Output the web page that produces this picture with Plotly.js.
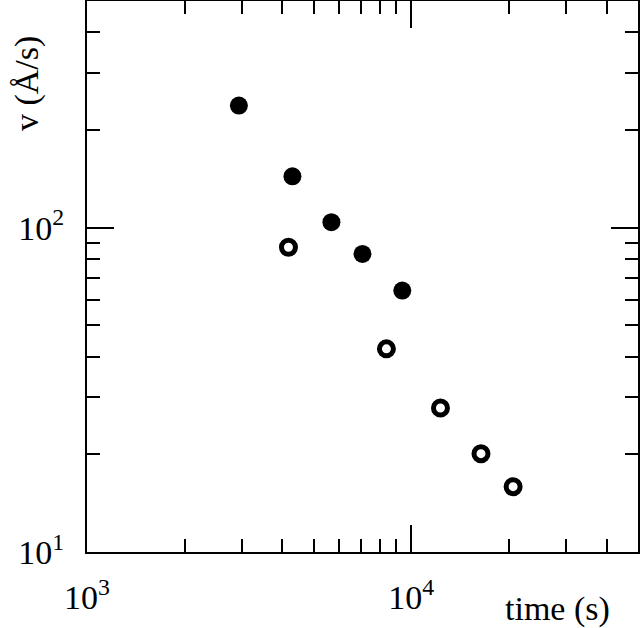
<!DOCTYPE html>
<html>
<head>
<meta charset="utf-8">
<script src="https://cdn.plot.ly/plotly-3.0.1.min.js"></script>
<style>
  html, body { margin: 0; padding: 0; background: #fff; }
  #plot { width: 640px; height: 628px; }
</style>
</head>
<body>
<div id="plot"></div>
<script>
// filled circles
let filledTime = [2940, 4300, 5670, 7070, 9380];
let filledV = [238, 144, 104, 83, 64];

// open circles
let openTime = [4180, 8380, 12300, 16400, 20600];
let openV = [87, 42.3, 27.8, 20.1, 15.9];

// axis ticks
let xTickVals = [1000, 10000];
let xTickText = ["10<sup>3</sup>", "10<sup>4</sup>"];
let yTickVals = [10, 100];
let yTickText = ["10<sup>1</sup>", "10<sup>2</sup>"];

// minor ticks at 2..9 of each decade
function minorTicks(lo, hi) {
    let out = [];
    for (let d = lo; d < hi; d *= 10) {
        for (let k = 2; k <= 9; k++) out.push(k * d);
    }
    return out;
}

let trace1 = {
    x: filledTime,
    y: filledV,
    mode: 'markers',
    type: 'scatter',
    marker: { symbol: 'circle', size: 18, color: '#000' },
    showlegend: false
};

let trace2 = {
    x: openTime,
    y: openV,
    mode: 'markers',
    type: 'scatter',
    marker: { symbol: 'circle-open', size: 14, color: '#000', line: { width: 5, color: '#000' } },
    showlegend: false
};

let font = { family: 'Liberation Serif, Times New Roman, serif', size: 34, color: '#000' };

let axisCommon = {
    type: 'log',
    showline: true,
    linecolor: '#000',
    linewidth: 2,
    mirror: 'allticks',
    ticks: 'inside',
    ticklen: 27,
    tickwidth: 2,
    tickcolor: '#000',
    showgrid: false,
    zeroline: false,
    tickmode: 'array',
    tickfont: font
};

let layout = {
    width: 640,
    height: 628,
    margin: { l: 87, r: 2, t: 1, b: 76 },
    paper_bgcolor: '#fff',
    plot_bgcolor: '#fff',
    font: font,
    xaxis: Object.assign({}, axisCommon, {
        range: [3, Math.log10(50000)],
        tickvals: xTickVals,
        ticktext: xTickText,
        ticklabelstandoff: 14,
        minor: { tickmode: 'array', tickvals: minorTicks(1000, 100000), ticks: 'inside', ticklen: 13, tickwidth: 2, tickcolor: '#000', showgrid: false }
    }),
    yaxis: Object.assign({}, axisCommon, {
        range: [1, Math.log10(500)],
        tickvals: yTickVals,
        ticktext: yTickText,
        ticklabelstandoff: 14,
        minor: { tickmode: 'array', tickvals: minorTicks(10, 1000), ticks: 'inside', ticklen: 13, tickwidth: 2, tickcolor: '#000', showgrid: false }
    }),
    annotations: [
        {
            text: 'time (s)', xref: 'paper', yref: 'paper',
            x: 0.853, y: -0.103, xanchor: 'center', yanchor: 'middle',
            showarrow: false, font: font
        },
        {
            text: 'v (Å/s)', xref: 'paper', yref: 'paper',
            x: -0.109, y: 0.851, xanchor: 'center', yanchor: 'middle',
            textangle: -90, showarrow: false, font: font
        }
    ]
};

Plotly.newPlot('plot', [trace1, trace2], layout, { displayModeBar: false, staticPlot: true });
</script>
</body>
</html>
